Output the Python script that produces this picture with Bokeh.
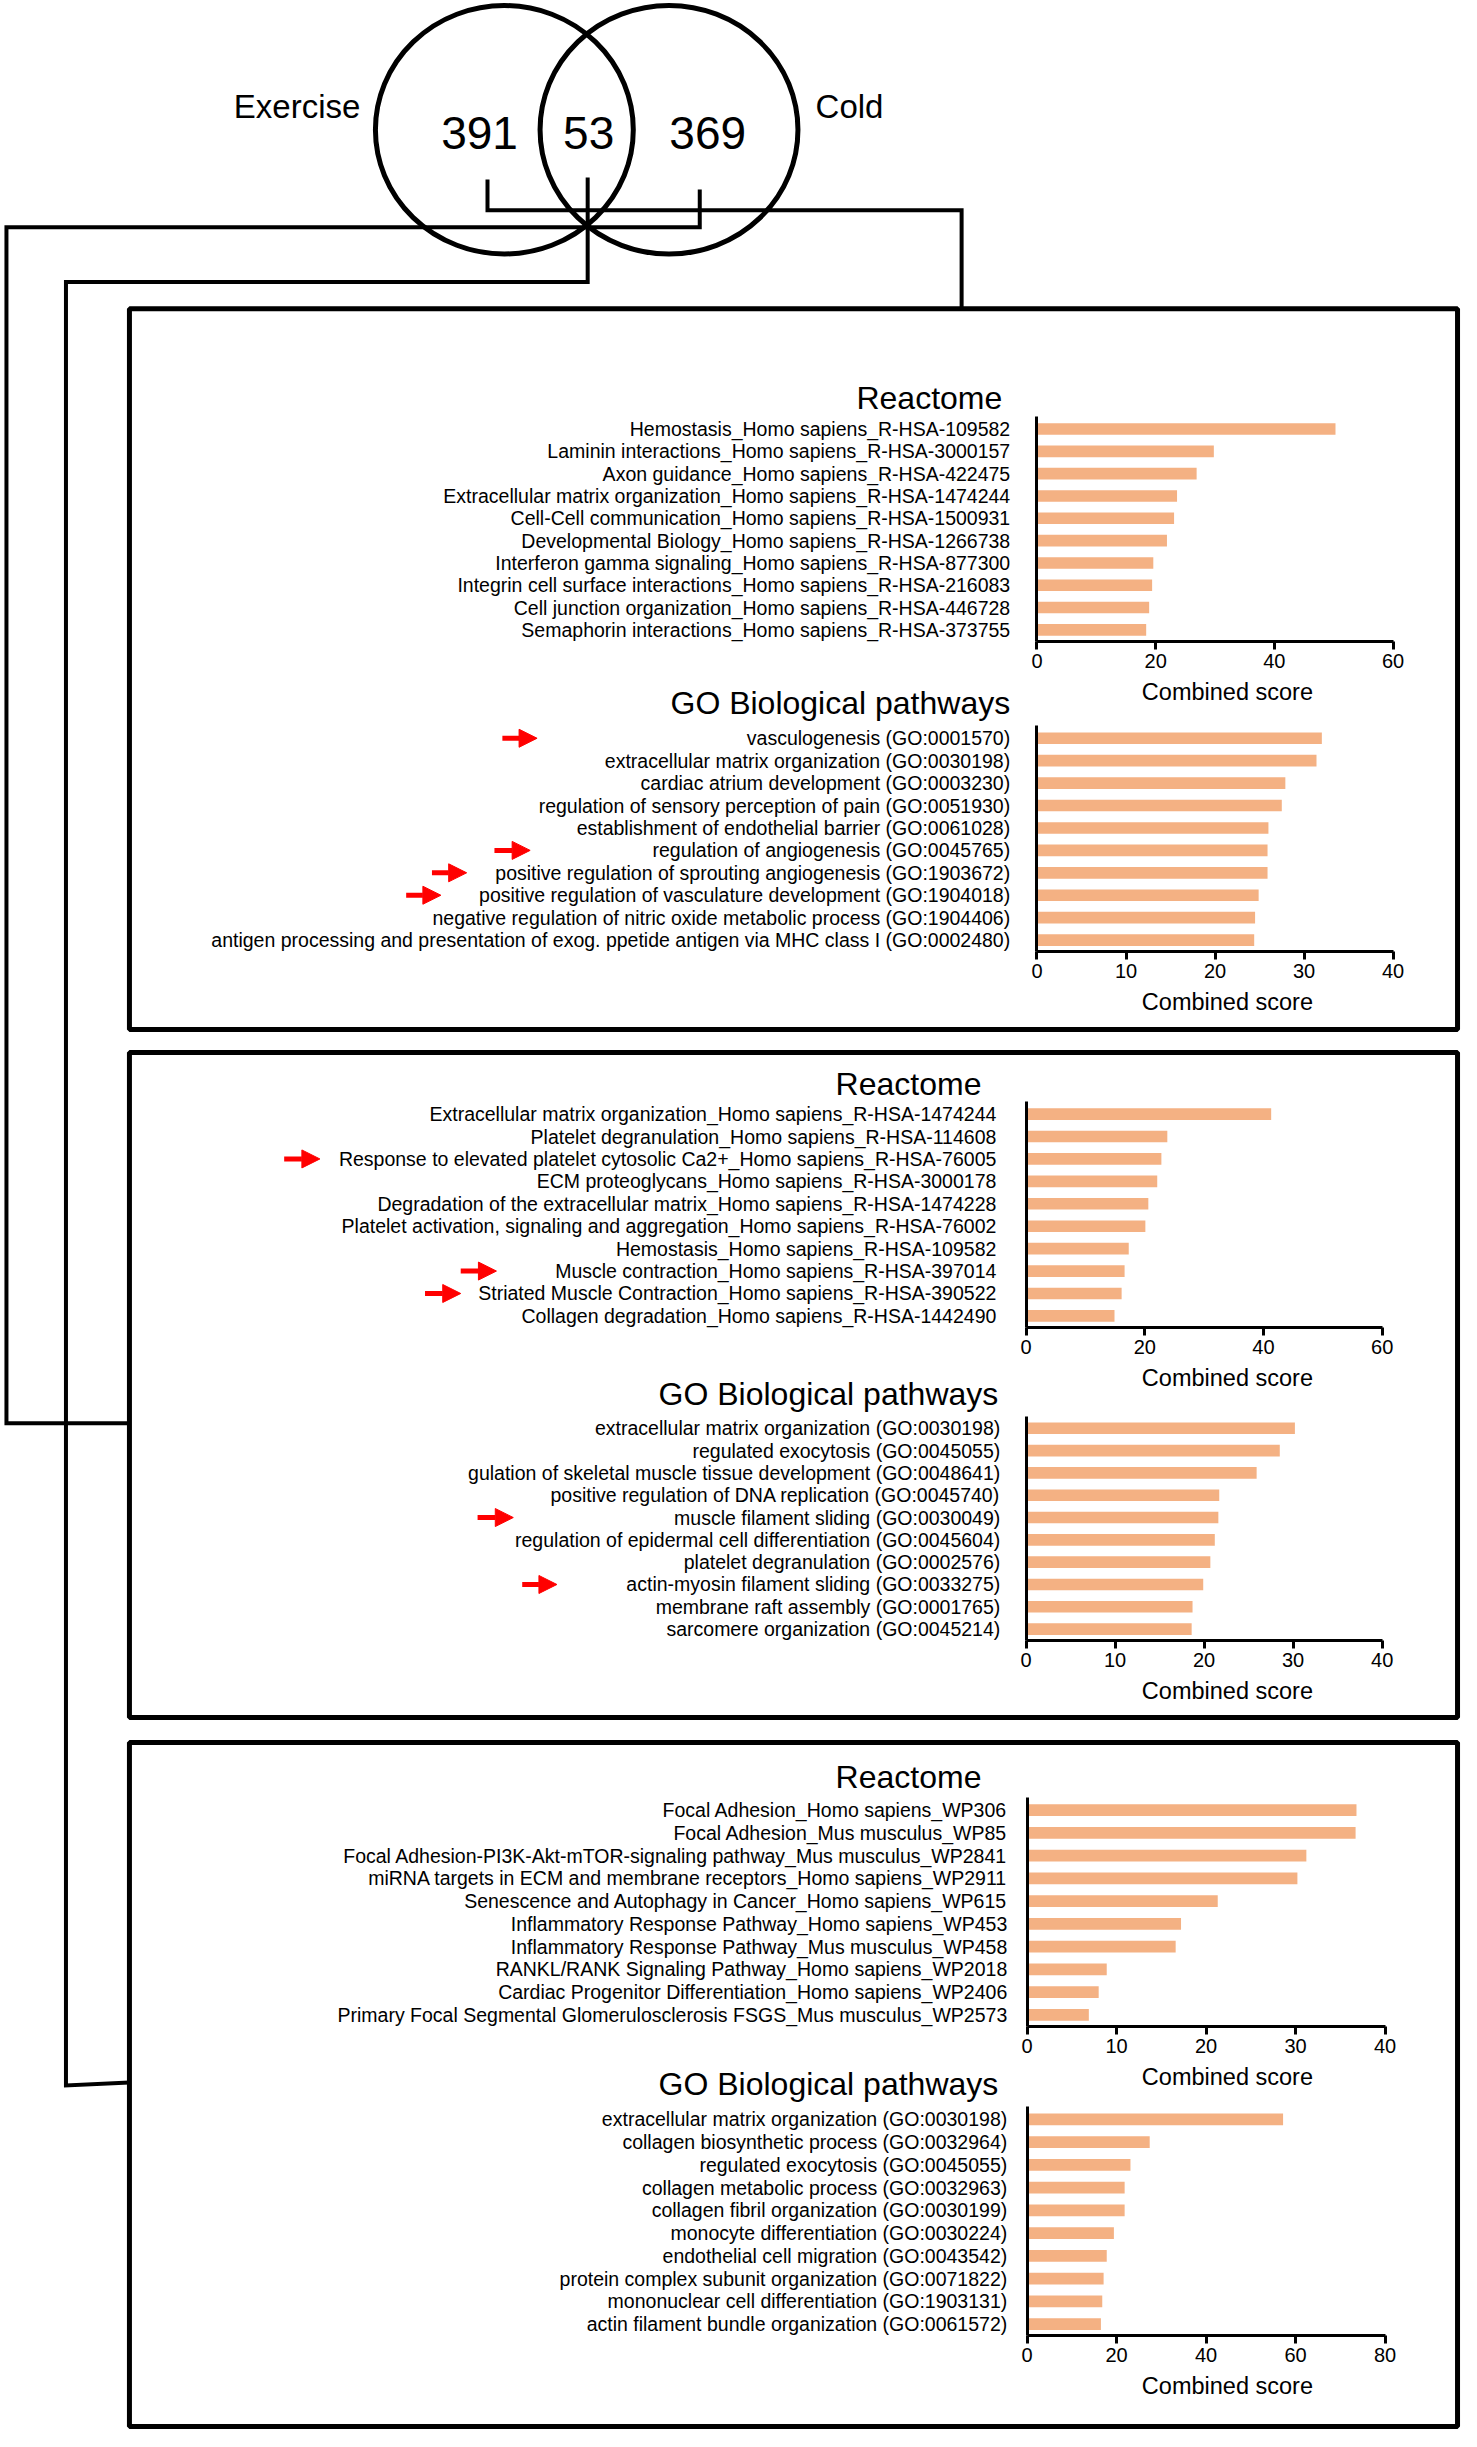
from bokeh.plotting import figure
from bokeh.models import Range1d, LinearAxis, FixedTicker, Arrow, NormalHead, ColumnDataSource
from bokeh.core.properties import value
from bokeh.embed import file_html
from bokeh.resources import INLINE

# ---------------- data ----------------
venn_sets = ["Exercise", "Cold"]
venn_counts = ["391", "53", "369"]
section_titles = ["Reactome", "GO Biological pathways"]
x_label = "Combined score"

b1_reactome_terms = [
    "Hemostasis_Homo sapiens_R-HSA-109582",
    "Laminin interactions_Homo sapiens_R-HSA-3000157",
    "Axon guidance_Homo sapiens_R-HSA-422475",
    "Extracellular matrix organization_Homo sapiens_R-HSA-1474244",
    "Cell-Cell communication_Homo sapiens_R-HSA-1500931",
    "Developmental Biology_Homo sapiens_R-HSA-1266738",
    "Interferon gamma signaling_Homo sapiens_R-HSA-877300",
    "Integrin cell surface interactions_Homo sapiens_R-HSA-216083",
    "Cell junction organization_Homo sapiens_R-HSA-446728",
    "Semaphorin interactions_Homo sapiens_R-HSA-373755",
]
b1_reactome_scores = [50.3, 29.8, 26.9, 23.6, 23.1, 21.9, 19.6, 19.4, 18.9, 18.4]
b1_reactome_ticks = [0, 20, 40, 60]
b1_reactome_arrows = []

b1_go_terms = [
    "vasculogenesis (GO:0001570)",
    "extracellular matrix organization (GO:0030198)",
    "cardiac atrium development (GO:0003230)",
    "regulation of sensory perception of pain (GO:0051930)",
    "establishment of endothelial barrier (GO:0061028)",
    "regulation of angiogenesis (GO:0045765)",
    "positive regulation of sprouting angiogenesis (GO:1903672)",
    "positive regulation of vasculature development (GO:1904018)",
    "negative regulation of nitric oxide metabolic process (GO:1904406)",
    "antigen processing and presentation of exog. ppetide antigen via MHC class I (GO:0002480)",
]
b1_go_scores = [32.0, 31.4, 27.9, 27.5, 26.0, 25.9, 25.9, 24.9, 24.5, 24.4]
b1_go_ticks = [0, 10, 20, 30, 40]
b1_go_arrows = [0, 5, 6, 7]

b2_reactome_terms = [
    "Extracellular matrix organization_Homo sapiens_R-HSA-1474244",
    "Platelet degranulation_Homo sapiens_R-HSA-114608",
    "Response to elevated platelet cytosolic Ca2+_Homo sapiens_R-HSA-76005",
    "ECM proteoglycans_Homo sapiens_R-HSA-3000178",
    "Degradation of the extracellular matrix_Homo sapiens_R-HSA-1474228",
    "Platelet activation, signaling and aggregation_Homo sapiens_R-HSA-76002",
    "Hemostasis_Homo sapiens_R-HSA-109582",
    "Muscle contraction_Homo sapiens_R-HSA-397014",
    "Striated Muscle Contraction_Homo sapiens_R-HSA-390522",
    "Collagen degradation_Homo sapiens_R-HSA-1442490",
]
b2_reactome_scores = [41.3, 23.8, 22.8, 22.1, 20.6, 20.1, 17.3, 16.6, 16.1, 14.9]
b2_reactome_ticks = [0, 20, 40, 60]
b2_reactome_arrows = [2, 7, 8]

b2_go_terms = [
    "extracellular matrix organization (GO:0030198)",
    "regulated exocytosis (GO:0045055)",
    "gulation of skeletal muscle tissue development (GO:0048641)",
    "positive regulation of DNA replication (GO:0045740)",
    "muscle filament sliding (GO:0030049)",
    "regulation of epidermal cell differentiation (GO:0045604)",
    "platelet degranulation (GO:0002576)",
    "actin-myosin filament sliding (GO:0033275)",
    "membrane raft assembly (GO:0001765)",
    "sarcomere organization (GO:0045214)",
]
b2_go_scores = [30.2, 28.5, 25.9, 21.7, 21.6, 21.2, 20.7, 19.9, 18.7, 18.6]
b2_go_ticks = [0, 10, 20, 30, 40]
b2_go_arrows = [4, 7]

b3_reactome_terms = [
    "Focal Adhesion_Homo sapiens_WP306",
    "Focal Adhesion_Mus musculus_WP85",
    "Focal Adhesion-PI3K-Akt-mTOR-signaling pathway_Mus musculus_WP2841",
    "miRNA targets in ECM and membrane receptors_Homo sapiens_WP2911",
    "Senescence and Autophagy in Cancer_Homo sapiens_WP615",
    "Inflammatory Response Pathway_Homo sapiens_WP453",
    "Inflammatory Response Pathway_Mus musculus_WP458",
    "RANKL/RANK Signaling Pathway_Homo sapiens_WP2018",
    "Cardiac Progenitor Differentiation_Homo sapiens_WP2406",
    "Primary Focal Segmental Glomerulosclerosis FSGS_Mus musculus_WP2573",
]
b3_reactome_scores = [36.8, 36.7, 31.2, 30.2, 21.3, 17.2, 16.6, 8.9, 8.0, 6.9]
b3_reactome_ticks = [0, 10, 20, 30, 40]
b3_reactome_arrows = []

b3_go_terms = [
    "extracellular matrix organization (GO:0030198)",
    "collagen biosynthetic process (GO:0032964)",
    "regulated exocytosis (GO:0045055)",
    "collagen metabolic process (GO:0032963)",
    "collagen fibril organization (GO:0030199)",
    "monocyte differentiation (GO:0030224)",
    "endothelial cell migration (GO:0043542)",
    "protein complex subunit organization (GO:0071822)",
    "mononuclear cell differentiation (GO:1903131)",
    "actin filament bundle organization (GO:0061572)",
]
b3_go_scores = [57.2, 27.4, 23.1, 21.8, 21.8, 19.4, 17.8, 17.1, 16.8, 16.5]
b3_go_ticks = [0, 20, 40, 60, 80]
b3_go_arrows = []

# ---------------- style / layout ----------------
FONT = "Liberation Sans"
BAR = "#F4B183"
RED = "#FF0000"
W, H = 1461, 2431
X0, X1 = 0, 1473
Y0, Y1 = 2445, 0   # inverted: page-like coordinates

p = figure(width=W, height=H, x_range=Range1d(X0, X1), y_range=Range1d(Y0, Y1),
           output_backend="svg", toolbar_location=None,
           x_axis_type=None, y_axis_type=None, min_border=0,
           outline_line_color=None, background_fill_color="white",
           border_fill_color="white")

# ---- Venn diagram ----
p.ellipse(x=[508, 674], y=[130, 130], width=[260, 260], height=[250, 250],
          fill_color=None, line_color="black", line_width=5)
p.text(x=[299, 856], y=[107, 107], text=venn_sets, text_align="center",
       text_baseline="middle", text_font=value(FONT), text_font_size="33px",
       text_color="black")
p.text(x=[483, 593, 713], y=[133, 133, 133], text=venn_counts, text_align="center",
       text_baseline="middle", text_font=value(FONT), text_font_size="46px",
       text_color="black")

# ---- connectors ----
p.multi_line(xs=[[491, 491, 969, 969],
                 [592, 592, 66, 66, 130],
                 [705, 705, 6, 6, 130]],
             ys=[[180, 211, 211, 310],
                 [178, 283, 283, 2097, 2094],
                 [190, 228, 228, 1431, 1431]],
             line_color="black", line_width=4, line_join="miter")

# ---- boxes ----
p.quad(left=[130, 130, 130], right=[1469, 1469, 1469],
       top=[310, 1058, 1752], bottom=[1035, 1727, 2440],
       fill_color=None, line_color="black", line_width=5)


def add_panel(name, title, terms, scores, ticks, arrows, axis_x0, axis_x1,
              y_first, y_last, label_right, title_right, title_y, arrow_x):
    vmax = ticks[-1]
    k = (axis_x1 - axis_x0) / vmax
    step = (y_last - y_first) / (len(terms) - 1)
    xr, yr = name + "_x", name + "_y"
    p.extra_x_ranges[xr] = Range1d((X0 - axis_x0) / k, (X1 - axis_x0) / k)
    p.extra_y_ranges[yr] = Range1d((Y0 - y_first) / step, (Y1 - y_first) / step)
    src = ColumnDataSource(dict(idx=list(range(len(terms))), term=terms, score=scores))
    p.hbar(y="idx", left=0, right="score", height=0.52, source=src,
           x_range_name=xr, y_range_name=yr, fill_color=BAR, line_color=None)
    p.text(x=label_right, y="idx", text="term", source=src, y_range_name=yr,
           text_align="right", text_baseline="middle", text_font=value(FONT),
           text_font_size="19.5px", text_color="black")
    p.text(x=[title_right], y=[title_y], text=[title], text_align="right",
           text_baseline="middle", text_font=value(FONT), text_font_size="32px",
           text_color="black")
    n = len(terms)
    xa = LinearAxis(x_range_name=xr, y_range_name=yr, fixed_location=n - 0.5,
                    bounds=(0, vmax), ticker=FixedTicker(ticks=ticks),
                    axis_line_width=3, axis_line_color="black",
                    major_tick_line_width=3, major_tick_line_color="black",
                    major_tick_out=8, major_tick_in=0,
                    minor_tick_line_color=None,
                    major_label_text_font=FONT, major_label_text_font_size="20px",
                    major_label_text_color="black", major_label_standoff=5)
    p.add_layout(xa, "below")
    ya = LinearAxis(x_range_name=xr, y_range_name=yr, fixed_location=0,
                    bounds=(-0.55, n - 0.5), ticker=FixedTicker(ticks=[]),
                    axis_line_width=3, axis_line_color="black",
                    major_tick_line_color=None, minor_tick_line_color=None,
                    major_label_text_color=None)
    p.add_layout(ya, "left")
    p.text(x=[1237], y=[n - 0.5], text=[x_label], y_range_name=yr, y_offset=51,
           text_align="center", text_baseline="middle", text_font=value(FONT),
           text_font_size="23.5px", text_color="black")
    for row, (xs, xe) in zip(arrows, arrow_x):
        p.add_layout(Arrow(x_start=xs, x_end=xe, y_start=row, y_end=row,
                           y_range_name=yr, line_color=RED, line_width=5,
                           end=NormalHead(size=18, fill_color=RED, line_color=RED,
                                          line_width=1)))


add_panel("b1r", section_titles[0], b1_reactome_terms, b1_reactome_scores, b1_reactome_ticks,
          b1_reactome_arrows, 1045, 1404, 431, 633, 1018, 1010, 400, [])
add_panel("b1g", section_titles[1], b1_go_terms, b1_go_scores, b1_go_ticks,
          b1_go_arrows, 1045, 1404, 742, 945, 1018, 1018, 707,
          [(506, 541), (498, 534), (435, 470), (409, 444)])
add_panel("b2r", section_titles[0], b2_reactome_terms, b2_reactome_scores, b2_reactome_ticks,
          b2_reactome_arrows, 1034, 1393, 1120, 1323, 1004, 989, 1090,
          [(286, 322), (464, 500), (428, 464)])
add_panel("b2g", section_titles[1], b2_go_terms, b2_go_scores, b2_go_ticks,
          b2_go_arrows, 1034, 1393, 1436, 1638, 1008, 1006, 1402,
          [(481, 517), (526, 561)])
add_panel("b3r", section_titles[0], b3_reactome_terms, b3_reactome_scores, b3_reactome_ticks,
          b3_reactome_arrows, 1035, 1396, 1820, 2026, 1015, 989, 1787, [])
add_panel("b3g", section_titles[1], b3_go_terms, b3_go_scores, b3_go_ticks,
          b3_go_arrows, 1035, 1396, 2131, 2337, 1015, 1006, 2095, [])

open("out.html", "w").write(file_html(p, INLINE))
